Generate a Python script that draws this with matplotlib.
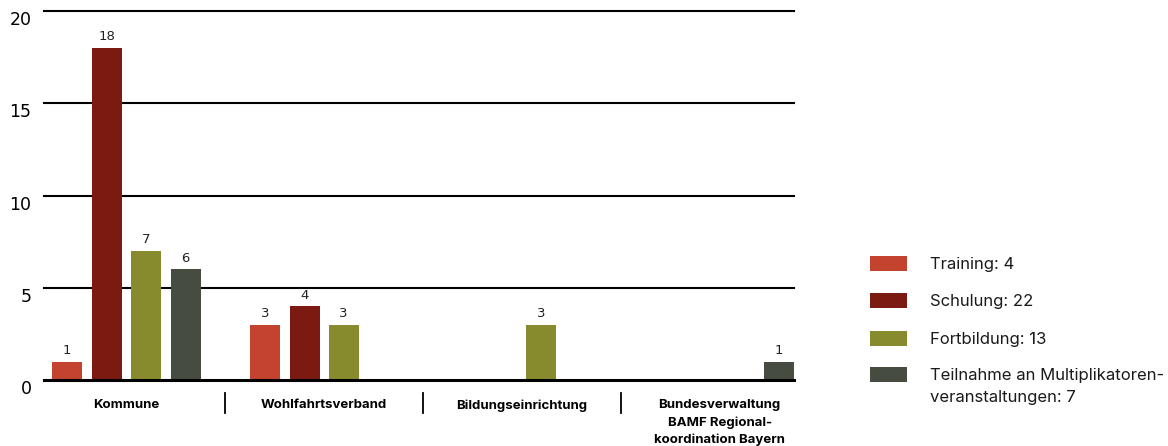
import matplotlib
matplotlib.use("Agg")
import matplotlib.pyplot as plt
from matplotlib.patches import Rectangle
import numpy as np

categories = ["Kommune", "Wohlfahrtsverband", "Bildungseinrichtung",
              "Bundesverwaltung\nBAMF Regional-\nkoordination Bayern"]
series_names = ["Training: 4", "Schulung: 22", "Fortbildung: 13",
                "Teilnahme an Multiplikatoren-\nveranstaltungen: 7"]
training = [1, 3, 0, 0]
schulung = [18, 4, 0, 0]
fortbildung = [7, 3, 3, 0]
teilnahme = [6, 0, 0, 1]
yticks = [0, 5, 10, 15, 20]

series = [training, schulung, fortbildung, teilnahme]
colors = ["#C4432F", "#7A1A10", "#878B2E", "#474C40"]

plt.rcParams['font.family'] = ['Inter', 'DejaVu Sans']

W, H = 1168, 446
fig = plt.figure(figsize=(W / 100, H / 100), dpi=100)
ax = fig.add_axes([44 / W, 1 - 380 / H, 750 / W, 369 / H])

x = np.arange(len(categories))
offsets = [-0.30, -0.0985, 0.0985, 0.30]
width = 0.152
for vals, off, col in zip(series, offsets, colors):
    bars = ax.bar(x + off, vals, width=width, color=col, zorder=3)
    for b, v in zip(bars, vals):
        if v > 0:
            ax.text(b.get_x() + b.get_width() / 2, v + 0.25, str(v),
                    ha='center', va='bottom', fontsize=9.5,
                    family='DejaVu Sans', color='#222222')

ax.set_xlim(-0.417, 3.376)
ax.set_ylim(0, 20)
ax.set_yticks(yticks)
ax.set_yticklabels([str(t) for t in yticks], fontsize=12.5, family='DejaVu Sans',
                   va='top')
for t in yticks:
    ax.axhline(t, color='black', lw=2.2 if t == 0 else 1.5,
               zorder=1 if t else 4, clip_on=False)

for s in ax.spines.values():
    s.set_visible(False)
ax.tick_params(axis='y', length=0, pad=9)
ax.tick_params(axis='x', length=0, pad=14)
ax.set_xticks(x)
ax.set_xticklabels(categories, fontsize=9.5, fontweight='bold', linespacing=1.5, va='top')

trans = ax.get_xaxis_transform()
for d in [0.5, 1.5, 2.5]:
    ax.plot([d, d], [-0.035, -0.09], transform=trans, color='black', lw=1.3, clip_on=False)

# legend drawn manually (patch aligned with first text line)
row_y = [263, 300, 338, 374]
for col, name, ry in zip(colors, series_names, row_y):
    fig.patches.append(Rectangle((870 / W, 1 - (ry + 7.5) / H), 37 / W, 15 / H,
                                 transform=fig.transFigure, facecolor=col,
                                 edgecolor='none'))
    fig.text(930 / W, 1 - (ry - 6) / H, name, fontsize=12, va='top', ha='left',
             linespacing=1.6, color='#1a1a1a')

fig.savefig("out.png", dpi=100)
